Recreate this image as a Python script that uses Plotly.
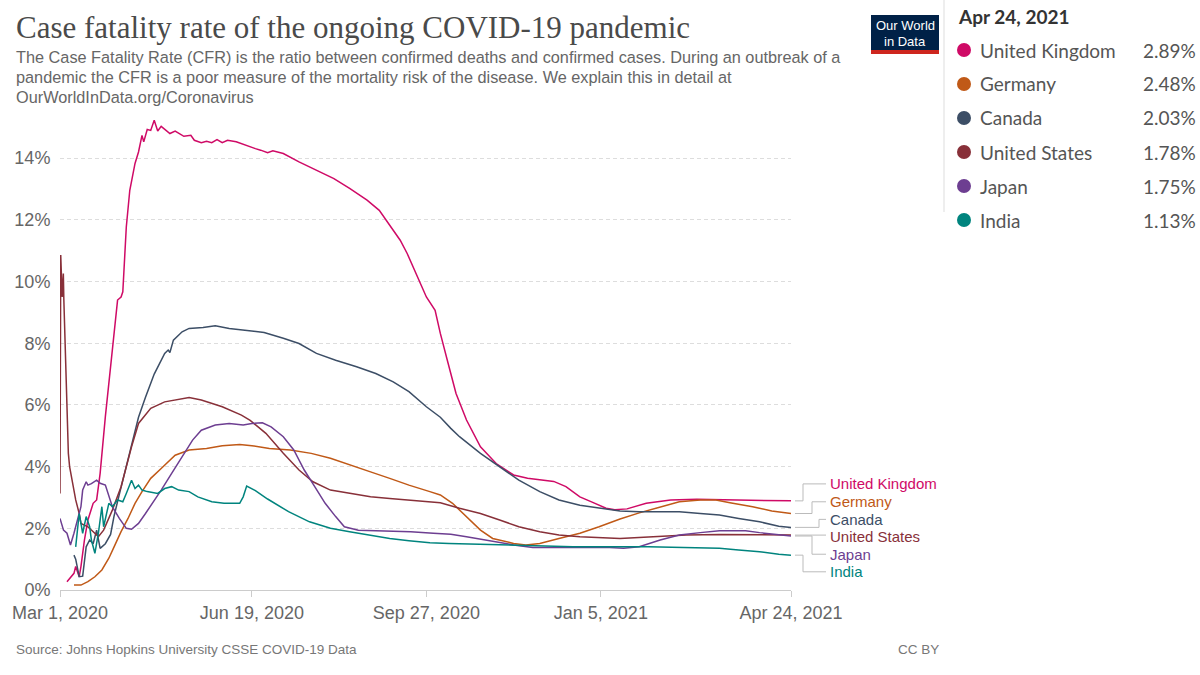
import plotly.graph_objects as go

# ---------------- data ----------------
countries = ["United Kingdom", "Germany", "Canada", "United States", "Japan", "India"]
colors = ["#CF0A66", "#C05917", "#3C4E66", "#883039", "#6D3E91", "#00847E"]

uk_dates = ["2020-03-05","2020-03-09","2020-03-10","2020-03-12","2020-03-13","2020-03-15","2020-03-17","2020-03-20",
            "2020-03-22","2020-03-24","2020-03-27","2020-03-30","2020-04-01","2020-04-03","2020-04-05","2020-04-06",
            "2020-04-08","2020-04-10","2020-04-13","2020-04-15","2020-04-17","2020-04-18","2020-04-20","2020-04-22",
            "2020-04-24","2020-04-26","2020-04-28","2020-05-03","2020-05-06","2020-05-11","2020-05-15","2020-05-17",
            "2020-05-21","2020-05-24","2020-05-27","2020-05-30","2020-06-02","2020-06-05","2020-06-10","2020-06-15",
            "2020-06-21","2020-06-24","2020-06-28","2020-07-01","2020-07-07","2020-07-16","2020-07-26","2020-08-05",
            "2020-08-14","2020-08-24","2020-08-31","2020-09-08","2020-09-12","2020-09-16","2020-09-21","2020-09-27",
            "2020-10-02","2020-10-05","2020-10-09","2020-10-14","2020-10-20","2020-10-28","2020-11-06","2020-11-12",
            "2020-11-16","2020-11-24","2020-12-09","2020-12-16","2020-12-24","2020-12-31","2021-01-08","2021-01-13",
            "2021-01-20","2021-01-31","2021-02-14","2021-03-01","2021-03-26","2021-04-24"]
uk_vals = [0.27,0.54,0.76,0.43,0.76,1.62,2.27,2.81,
           2.92,3.78,5.62,7.24,8.43,9.40,9.50,9.67,
           11.77,12.96,13.83,14.20,14.74,14.53,14.93,14.90,
           15.23,14.88,15.03,14.80,14.88,14.71,14.74,14.58,
           14.50,14.55,14.50,14.60,14.50,14.58,14.53,14.42,
           14.31,14.26,14.18,14.24,14.15,13.88,13.60,13.34,
           13.02,12.64,12.31,11.67,11.34,10.91,10.26,9.50,
           9.07,8.32,7.45,6.37,5.51,4.64,4.10,3.89,
           3.73,3.62,3.52,3.35,3.02,2.85,2.65,2.60,
           2.63,2.81,2.92,2.94,2.92,2.89]

de_dates = ["2020-03-09","2020-03-13","2020-03-17","2020-03-21","2020-03-25","2020-03-29","2020-04-01","2020-04-05",
            "2020-04-09","2020-04-13","2020-04-17","2020-04-22","2020-04-28","2020-05-06","2020-05-14","2020-05-24",
            "2020-06-02","2020-06-12","2020-06-19","2020-06-29","2020-07-11","2020-07-23","2020-08-03","2020-08-14",
            "2020-08-26","2020-09-06","2020-09-17","2020-09-29","2020-10-05","2020-10-12","2020-10-20","2020-10-28",
            "2020-11-04","2020-11-16","2020-11-23","2020-12-01","2020-12-12","2020-12-24","2021-01-04","2021-01-16",
            "2021-01-27","2021-02-08","2021-02-19","2021-03-03","2021-03-12","2021-03-20","2021-04-02","2021-04-13",
            "2021-04-24"]
de_vals = [0.16,0.16,0.27,0.43,0.65,1.03,1.40,1.89,
           2.32,2.81,3.19,3.62,3.94,4.37,4.54,4.59,
           4.68,4.72,4.68,4.59,4.54,4.43,4.27,4.05,
           3.83,3.62,3.40,3.19,3.08,2.81,2.38,1.94,
           1.67,1.51,1.46,1.51,1.67,1.84,2.05,2.30,
           2.50,2.70,2.86,2.92,2.92,2.83,2.70,2.56,
           2.48]

ca_dates = ["2020-03-09","2020-03-10","2020-03-12","2020-03-14","2020-03-16","2020-03-18","2020-03-20","2020-03-22",
            "2020-03-24","2020-03-27","2020-03-30","2020-04-01","2020-04-04","2020-04-07","2020-04-10","2020-04-15",
            "2020-04-19","2020-04-24","2020-04-30","2020-05-02","2020-05-03","2020-05-05","2020-05-10","2020-05-14",
            "2020-05-22","2020-05-29","2020-06-06","2020-06-13","2020-06-18","2020-06-26","2020-07-07","2020-07-16",
            "2020-07-26","2020-08-06","2020-08-18","2020-08-29","2020-09-08","2020-09-17","2020-09-27","2020-10-05",
            "2020-10-11","2020-10-16","2020-10-28","2020-11-08","2020-11-19","2020-12-01","2020-12-12","2020-12-24",
            "2021-01-04","2021-01-16","2021-01-27","2021-02-08","2021-02-19","2021-03-03","2021-03-14","2021-03-25",
            "2021-04-06","2021-04-17","2021-04-24"]
ca_vals = [1.13,1.00,0.43,0.45,1.40,1.62,1.50,1.94,
           1.35,1.50,1.80,2.40,3.10,3.80,4.50,5.60,
           6.25,7.00,7.67,7.78,7.70,8.10,8.37,8.48,
           8.51,8.57,8.48,8.43,8.40,8.35,8.16,7.99,
           7.67,7.45,7.24,7.02,6.75,6.43,5.94,5.60,
           5.24,4.97,4.43,4.00,3.56,3.19,2.92,2.75,
           2.65,2.56,2.54,2.54,2.54,2.48,2.43,2.32,
           2.21,2.07,2.03]

us_dates = ["2020-03-01 00:00","2020-03-01 10:00","2020-03-02 06:00","2020-03-02 22:00","2020-03-03 05:00",
            "2020-03-04 20:00","2020-03-05 19:00","2020-03-06 12:00","2020-03-08","2020-03-10","2020-03-12",
            "2020-03-13","2020-03-17","2020-03-21","2020-03-23","2020-03-26","2020-03-31","2020-04-05","2020-04-11",
            "2020-04-15","2020-04-22","2020-04-30","2020-05-06","2020-05-14","2020-05-21","2020-06-02","2020-06-13",
            "2020-06-18","2020-06-27","2020-07-07","2020-07-16","2020-07-24","2020-08-03","2020-08-14","2020-08-26",
            "2020-09-06","2020-09-17","2020-09-29","2020-10-05","2020-10-16","2020-10-28","2020-11-08","2020-11-19",
            "2020-12-01","2020-12-12","2020-12-24","2021-01-04","2021-01-16","2021-02-04","2021-02-23","2021-03-14",
            "2021-04-02","2021-04-24"]
us_vals = [3.13,10.86,9.50,10.26,9.40,
           6.30,4.43,4.00,3.56,2.92,2.48,
           2.16,2.05,1.84,1.73,1.94,2.59,3.35,4.64,
           5.40,5.89,6.10,6.16,6.24,6.16,5.94,5.67,
           5.50,5.08,4.43,3.89,3.51,3.24,3.13,3.02,
           2.97,2.92,2.86,2.83,2.65,2.48,2.27,2.05,
           1.89,1.78,1.73,1.71,1.67,1.73,1.78,1.80,
           1.78,1.78]

jp_dates = ["2020-03-01","2020-03-03","2020-03-05","2020-03-07","2020-03-09","2020-03-11","2020-03-13","2020-03-14",
            "2020-03-16","2020-03-17","2020-03-19","2020-03-22","2020-03-24","2020-03-27","2020-03-29","2020-03-31",
            "2020-04-04","2020-04-08","2020-04-11","2020-04-15","2020-04-19","2020-04-23","2020-04-28","2020-05-04",
            "2020-05-10","2020-05-16","2020-05-21","2020-05-29","2020-06-06","2020-06-14","2020-06-19","2020-06-25",
            "2020-06-30","2020-07-07","2020-07-13","2020-07-19","2020-07-25","2020-07-31","2020-08-06","2020-08-11",
            "2020-08-19","2020-09-03","2020-09-18","2020-10-01","2020-10-11","2020-10-20","2020-11-04","2020-11-16",
            "2020-11-27","2020-12-12","2020-12-28","2021-01-10","2021-01-18","2021-01-27","2021-02-08","2021-02-19",
            "2021-03-03","2021-03-14","2021-03-29","2021-04-06","2021-04-24"]
jp_vals = [2.32,1.94,1.84,1.46,1.84,2.27,2.70,3.24,
           3.51,3.40,3.45,3.56,3.46,3.40,3.02,2.70,
           2.32,2.00,1.97,2.16,2.48,2.81,3.24,3.78,
           4.32,4.86,5.18,5.35,5.40,5.35,5.40,5.42,
           5.29,4.97,4.54,3.89,3.35,2.81,2.38,2.05,
           1.94,1.92,1.89,1.84,1.81,1.73,1.57,1.46,
           1.38,1.38,1.40,1.38,1.35,1.40,1.62,1.78,
           1.86,1.92,1.92,1.86,1.75]

in_dates = ["2020-03-10","2020-03-12","2020-03-14","2020-03-16","2020-03-18","2020-03-19","2020-03-21","2020-03-23",
            "2020-03-25","2020-03-26","2020-03-29","2020-03-31","2020-04-03","2020-04-06","2020-04-08","2020-04-10",
            "2020-04-11","2020-04-13","2020-04-15","2020-04-17","2020-04-20","2020-04-26","2020-04-30","2020-05-04",
            "2020-05-08","2020-05-14","2020-05-19","2020-05-27","2020-06-03","2020-06-12","2020-06-14","2020-06-16",
            "2020-06-21","2020-06-28","2020-07-10","2020-07-22","2020-08-03","2020-08-14","2020-08-26","2020-09-06",
            "2020-09-17","2020-09-29","2020-10-10","2020-10-24","2020-11-12","2020-12-01","2020-12-20","2021-02-01",
            "2021-03-03","2021-03-14","2021-03-25","2021-04-06","2021-04-17","2021-04-24"]
in_vals = [1.40,2.48,1.84,2.38,2.05,1.62,1.19,1.84,
           2.70,2.05,2.81,2.70,2.92,2.86,3.13,3.40,
           3.56,3.29,3.40,3.24,3.19,3.13,3.29,3.35,
           3.24,3.19,3.02,2.86,2.81,2.81,3.02,3.37,
           3.22,2.95,2.54,2.21,2.00,1.89,1.78,1.67,
           1.60,1.53,1.51,1.49,1.46,1.43,1.40,1.40,
           1.38,1.35,1.30,1.24,1.16,1.13]

x_tick_vals = ["2020-03-01", "2020-06-19", "2020-09-27", "2021-01-05", "2021-04-24"]
x_tick_text = ["Mar 1, 2020", "Jun 19, 2020", "Sep 27, 2020", "Jan 5, 2021", "Apr 24, 2021"]
y_tick_vals = [0, 2, 4, 6, 8, 10, 12, 14]
y_tick_text = ["0%", "2%", "4%", "6%", "8%", "10%", "12%", "14%"]
panel_date = "Apr 24, 2021"

series_dates = [uk_dates, de_dates, ca_dates, us_dates, jp_dates, in_dates]
series_vals = [uk_vals, de_vals, ca_vals, us_vals, jp_vals, in_vals]
for d, v in zip(series_dates, series_vals):
    assert len(d) == len(v), (len(d), len(v))

# ---------------- layout geometry ----------------
W, H = 1200, 675
L, R, T, B = 60, 409, 115, 85
PW, PH = W - L - R, H - T - B


def px(X):
    return (X - L) / PW


def py(Y):
    return (H - B - Y) / PH


label_y = [3.44, 2.86, 2.29, 1.73, 1.16, 0.59]      # label positions (data units)
elbow_px = [803, 812, 819, None, 812, 803]           # connector elbows (pixels)

fig = go.Figure()
for name, col, d, v in zip(countries, colors, series_dates, series_vals):
    fig.add_trace(go.Scatter(x=d, y=v, mode="lines", name=name,
                             line=dict(color=col, width=1.5), hoverinfo="skip"))

fig.update_layout(
    width=W, height=H,
    margin=dict(l=L, r=R, t=T, b=B),
    paper_bgcolor="white", plot_bgcolor="white",
    showlegend=False,
    font=dict(family="Liberation Sans, Arial, sans-serif", color="#666"),
    xaxis=dict(type="date", range=["2020-03-01", "2021-04-24"],
               tickvals=x_tick_vals, ticktext=x_tick_text,
               ticks="outside", ticklen=6, tickcolor="#ccc",
               showline=True, linecolor="#ccc", linewidth=1,
               showgrid=False, zeroline=False,
               tickfont=dict(size=18, color="#666")),
    yaxis=dict(range=[0, 15.4], tickvals=y_tick_vals, ticktext=y_tick_text,
               showgrid=True, gridcolor="#ddd", griddash="4px,3px", gridwidth=1,
               zeroline=False, showline=False,
               ticks="outside", ticklen=5, tickcolor="rgba(0,0,0,0)",
               tickfont=dict(size=18, color="#666")),
)

ann = []
shapes = []

# Title / subtitle
ann.append(dict(x=px(14), y=py(28), xref="paper", yref="paper", xanchor="left", yanchor="middle",
                text="Case fatality rate of the ongoing COVID-19 pandemic", showarrow=False,
                font=dict(family="Liberation Serif, Times New Roman, serif", size=31, color="#4a4a4a")))
sub_lines = ["The Case Fatality Rate (CFR) is the ratio between confirmed deaths and confirmed cases. During an outbreak of a",
             "pandemic the CFR is a poor measure of the mortality risk of the disease. We explain this in detail at",
             "OurWorldInData.org/Coronavirus"]
for i, s in enumerate(sub_lines):
    ann.append(dict(x=px(14), y=py(57 + 20 * i), xref="paper", yref="paper", xanchor="left", yanchor="middle",
                    text=s, showarrow=False, font=dict(size=16.3, color="#666")))

# Footer
ann.append(dict(x=px(14), y=py(649), xref="paper", yref="paper", xanchor="left", yanchor="middle",
                text="Source: Johns Hopkins University CSSE COVID-19 Data", showarrow=False,
                font=dict(size=13.5, color="#777")))
ann.append(dict(x=px(941), y=py(649), xref="paper", yref="paper", xanchor="right", yanchor="middle",
                text="CC BY", showarrow=False, font=dict(size=13.5, color="#777")))

# Logo
shapes.append(dict(type="rect", xref="paper", yref="paper", x0=px(871), x1=px(939), y0=py(54), y1=py(15),
                   fillcolor="#002147", line=dict(width=0)))
shapes.append(dict(type="rect", xref="paper", yref="paper", x0=px(871), x1=px(939), y0=py(54), y1=py(50),
                   fillcolor="#CE261E", line=dict(width=0)))
ann.append(dict(x=px(905), y=py(26), xref="paper", yref="paper", xanchor="center", yanchor="middle",
                text="Our World", showarrow=False, font=dict(size=13, color="white")))
ann.append(dict(x=px(905), y=py(41), xref="paper", yref="paper", xanchor="center", yanchor="middle",
                text="in Data", showarrow=False, font=dict(size=13, color="white")))

# Right panel
shapes.append(dict(type="line", xref="paper", yref="paper", x0=px(944), x1=px(944), y0=py(0), y1=py(212),
                   line=dict(color="#ddd", width=1)))
ann.append(dict(x=px(956), y=py(17), xref="paper", yref="paper", xanchor="left", yanchor="middle",
                text="<b>" + panel_date + "</b>", showarrow=False,
                font=dict(family="Lato, sans-serif", size=19, color="#333")))
for i, (name, col, v) in enumerate(zip(countries, colors, series_vals)):
    Yr = 50 + 34 * i
    shapes.append(dict(type="circle", xref="paper", yref="paper", xsizemode="pixel", ysizemode="pixel",
                       xanchor=px(964), yanchor=py(Yr), x0=-7, x1=7, y0=-7, y1=7,
                       fillcolor=col, line=dict(width=0)))
    ann.append(dict(x=px(978), y=py(Yr), xref="paper", yref="paper", xanchor="left", yanchor="middle",
                    text=name, showarrow=False, font=dict(family="Lato, sans-serif", size=19, color="#555")))
    ann.append(dict(x=px(1198), y=py(Yr), xref="paper", yref="paper", xanchor="right", yanchor="middle",
                    text=f"{v[-1]:.2f}%", showarrow=False, font=dict(family="Lato, sans-serif", size=19, color="#555")))

# End-of-line labels with connectors
for name, col, v, ly, el in zip(countries, colors, series_vals, label_y, elbow_px):
    end = v[-1]
    if el is None:
        path = f"M {px(795)},{end} H {px(826)}"
    else:
        path = f"M {px(795)},{end} H {px(el)} V {ly} H {px(826)}"
    shapes.append(dict(type="path", xref="paper", yref="y", path=path, line=dict(color="#bbb", width=1)))
    ann.append(dict(x=px(828), y=ly, xref="paper", yref="y", xanchor="left", yanchor="middle",
                    text=name, showarrow=False, font=dict(size=15, color=col)))

fig.update_layout(annotations=ann, shapes=shapes)
fig.write_html("out.html", config={"displayModeBar": False},
               post_script="document.body.style.margin='0';document.body.style.overflow='hidden';")
